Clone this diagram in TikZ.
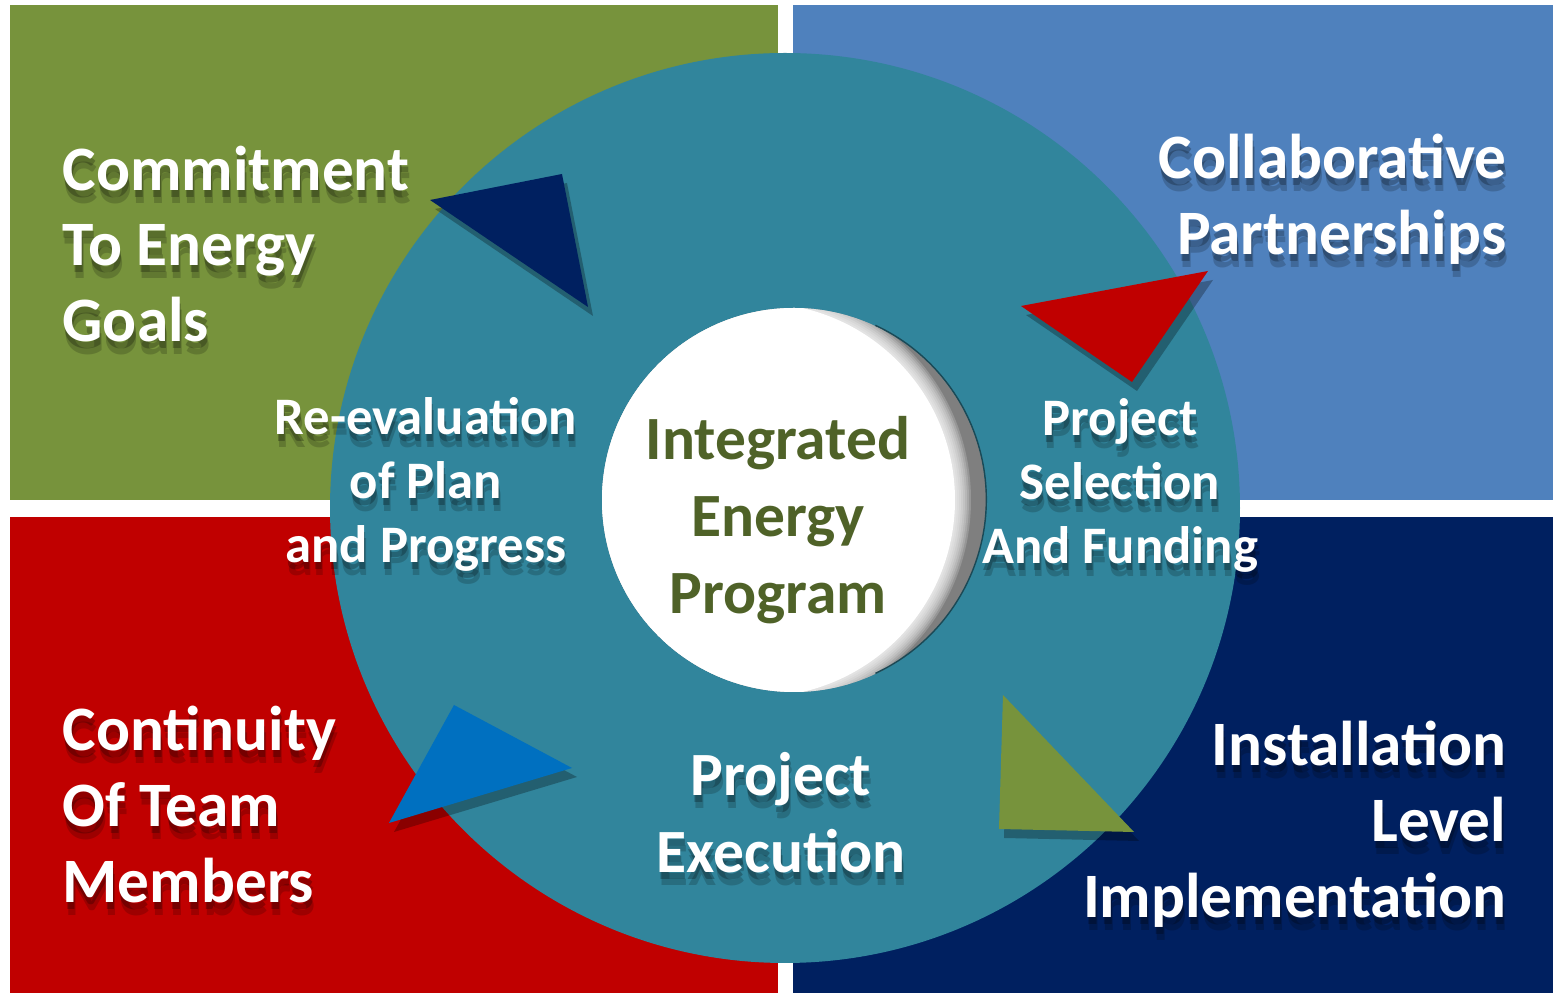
\documentclass[tikz,border=0pt]{standalone}
\usepackage{fontspec}
\setmainfont{Carlito}
\usetikzlibrary{shadows}

\definecolor{quadgreen}{HTML}{77933C}
\definecolor{quadblue}{HTML}{4F81BD}
\definecolor{quadred}{HTML}{C00000}
\definecolor{quadnavy}{HTML}{002060}
\definecolor{ringteal}{HTML}{31859C}
\definecolor{arrowblue}{HTML}{0070C0}
\definecolor{hubtext}{HTML}{4F6228}
\definecolor{hubgray}{HTML}{7F7F7F}

% white caption with a soft dark shadow under it
\newcommand{\shadowlabel}[4]{%
  \node[#3, text=black, opacity=0.18, xshift=0.2mm, yshift=-1.3mm] at (#2) {#4};
  \node[#3, text=black, opacity=0.25, xshift=0.1mm, yshift=-0.7mm] at (#2) {#4};
  \node[#3] (#1) at (#2) {#4};}

\begin{document}
\begin{tikzpicture}[x=0.1mm, y=-0.1mm,
    corner/.style={text=white, inner sep=0, font=\bfseries\fontsize{18}{21.6}\selectfont},
    ringlabel/.style={text=white, inner sep=0, align=center, font=\bfseries\fontsize{15}{18.2}\selectfont},
    hublabel/.style={inner sep=0, align=center, font=\bfseries\fontsize{17.5}{21.8}\selectfont},
    pointershadow/.style={fill=black, opacity=0.28, shift={(5,9)}}]
  % page, (0,0) is top left
  \fill[white] (0,0) rectangle (1553,993);
  \useasboundingbox (0,0) rectangle (1553,993);

  % the four coloured quarters
  \fill[quadgreen] (10,5) rectangle (778,500);
  \fill[quadblue] (793,5) rectangle (1553,500);
  \fill[quadred] (10,517) rectangle (778,993);
  \fill[quadnavy] (793,517) rectangle (1553,993);

  % big ring
  \fill[ringteal] (785,508) circle (455);

  % white hub, grey inner shadow on its right side
  \node[circle, minimum size=38.4mm, inner sep=0] (hub) at (794,500) {};
  \begin{scope}
    \clip (794,500) circle (192);
    \fill[hubgray] (794,500) circle (192);
    % soft edge: thin white layers building up towards the middle
    \foreach \r in {213,211,...,199}
      \fill[white, opacity=0.18] (758,500) circle (\r);
    \fill[white] (758,500) circle (197);
  \end{scope}
  \draw[black!45!ringteal, line width=0.4pt] (hub.65) arc[start angle=-65, end angle=65, radius=192];

  % pointers round the ring, with their shadows
  \fill[pointershadow] (430,200) -- (562,174) -- (588,307) -- cycle;
  \fill[quadnavy] (430,200) -- (562,174) -- (588,307) -- cycle;
  \fill[pointershadow] (1021,306) -- (1208,271) -- (1132,382) -- cycle;
  \fill[quadred] (1021,306) -- (1208,271) -- (1132,382) -- cycle;
  \fill[pointershadow] (1003,695) -- (999,829) -- (1134,832) -- cycle;
  \fill[quadgreen] (1003,695) -- (999,829) -- (1134,832) -- cycle;
  \fill[pointershadow] (389,823) -- (454,705) -- (572,768) -- cycle;
  \fill[arrowblue] (389,823) -- (454,705) -- (572,768) -- cycle;

  % corner captions
  \shadowlabel{commit}{62,145}{corner, anchor=north west, align=left}{Commitment\\To Energy\\Goals}
  \shadowlabel{partner}{1507,133}{corner, anchor=north east, align=right}{Collaborative\\Partnerships}
  \shadowlabel{team}{62,705}{corner, anchor=north west, align=left}{Continuity\\Of Team\\Members}
  \shadowlabel{install}{1507,720}{corner, anchor=north east, align=right}{Installation\\Level\\Implementation}

  % steps on the ring
  \shadowlabel{reeval}{426,397}{ringlabel, anchor=north}{Re-evaluation\\of Plan\\and Progress}
  \shadowlabel{select}{1120,398}{ringlabel, anchor=north}{Project\\Selection\\And Funding}
  \shadowlabel{execute}{781,752}{hublabel, text=white, anchor=north}{Project\\Execution}

  % hub text
  \node[hublabel, text=hubtext, anchor=north] (program) at (778,416) {Integrated\\Energy\\Program};
\end{tikzpicture}
\end{document}
